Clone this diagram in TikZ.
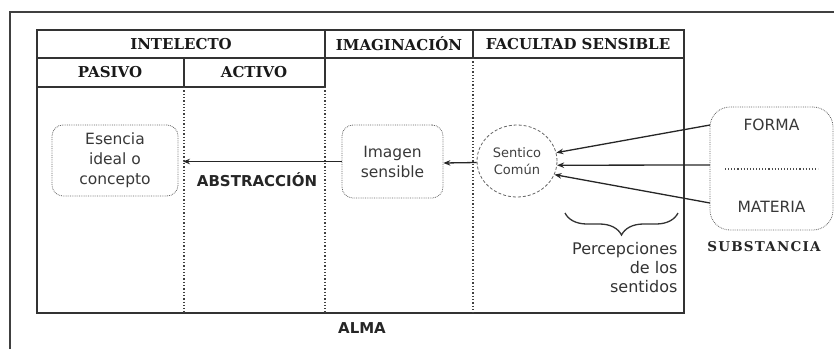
\documentclass[tikz,border=0pt]{standalone}
\usepackage{fontspec}
\setsansfont{DejaVu Sans}
\newfontfamily\hdrfont{DejaVu Serif}
\newfontfamily\subfont{DejaVu Serif}[LetterSpace=9]
\usetikzlibrary{arrows.meta,shapes.geometric,decorations.pathreplacing}
\begin{document}
\begin{tikzpicture}[x=1pt,y=-1pt,
  frame/.style={line width=1.8pt,draw=black!80},
  divider/.style={line width=1.3pt,draw=black!75,dotted},
  hdr/.style={font=\hdrfont\bfseries\fontsize{15}{17}\selectfont,text=black!90},
  body/.style={font=\sffamily\fontsize{15.5}{20}\selectfont,text=black!78,align=center},
  dbox/.style={draw=black!60,densely dotted,line width=0.8pt,rounded corners=11pt},
  arr/.style={-{Stealth[length=7pt,width=5.5pt]},line width=1.3pt,draw=black!85},
  lab/.style={font=\sffamily\bfseries\fontsize{15}{16}\selectfont,text=black!85}]
\useasboundingbox (0,0) rectangle (834,349);
% outer frame (only top and left visible)
\draw[line width=1.5pt,draw=black!75] (10,349) -- (10,12) -- (834,12);
% table
\draw[frame] (37,30) rectangle (684,313);
\draw[frame] (37,58) -- (684,58);
\draw[frame] (37,87) -- (325,87);
\draw[frame] (325,30) -- (325,87);
\draw[frame] (184,58) -- (184,87);
\draw[frame] (473,30) -- (473,58);
\draw[divider] (184,87) -- (184,313);
\draw[divider] (325,87) -- (325,313);
\draw[divider] (473,58) -- (473,313);
% headers
\node[hdr] (hInt) at (181,44) {INTELECTO};
\node[hdr] (hImg) at (399,44) {IMAGINACIÓN};
\node[hdr] (hFac) at (578,44) {FACULTAD SENSIBLE};
\node[hdr] (hPas) at (110,72.5) {PASIVO};
\node[hdr] (hAct) at (254,72.5) {ACTIVO};
% boxes
\node[dbox,body,minimum width=126pt,minimum height=71pt] (esencia) at (115,160.5) {Esencia\\ideal o\\concepto};
\node[dbox,body,minimum width=101pt,minimum height=73pt] (imagen) at (392.5,161.5) {Imagen\\sensible};
\node[ellipse,draw=black!60,densely dashed,line width=0.8pt,minimum width=80pt,minimum height=72pt,inner sep=0pt,
      font=\sffamily\fontsize{13}{17}\selectfont,text=black!75,align=center] (sent) at (517,161) {Sentico\\Común};
\node[dbox,rounded corners=20pt,minimum width=123pt,minimum height=123pt] (subst) at (771.5,168.5) {};
\node[body] (forma) at (771.5,125) {FORMA};
\node[body] (materia) at (771.5,207) {MATERIA};
\draw[black!70,line width=1.1pt,dotted] (725,169) -- (818,169);
% labels
\node[lab] (abs) at (257,180) {ABSTRACCIÓN};
\node[font=\subfont\bfseries\fontsize{13.5}{14}\selectfont,text=black!85] (substl) at (764,247) {SUBSTANCIA};
\node[lab] (alma) at (362,328) {ALMA};
\node[font=\sffamily\fontsize{16}{19}\selectfont,text=black!80,align=right,anchor=east] (perc) at (681,268) {Percepciones\\de los\\sentidos};
% brace
\draw[decorate,decoration={brace,mirror,amplitude=22pt,aspect=0.5},line width=1.3pt,draw=black!80] (565,213) -- (678,213);
% arrows
\coordinate (fo) at (710,125);
\coordinate (mid) at (710,165);
\coordinate (ma) at (710,203);
\draw[arr] (imagen.west) -- ([yshift=-1pt]esencia.east -| 183,0);
\draw[arr] ([yshift=-1.5pt]sent.west) -- ([yshift=-1.5pt]imagen.east);
\draw[arr] (fo) -- (sent.12);
\draw[arr] (mid) -- (sent.-6);
\draw[arr] (ma) -- (sent.-20);
\end{tikzpicture}
\end{document}
